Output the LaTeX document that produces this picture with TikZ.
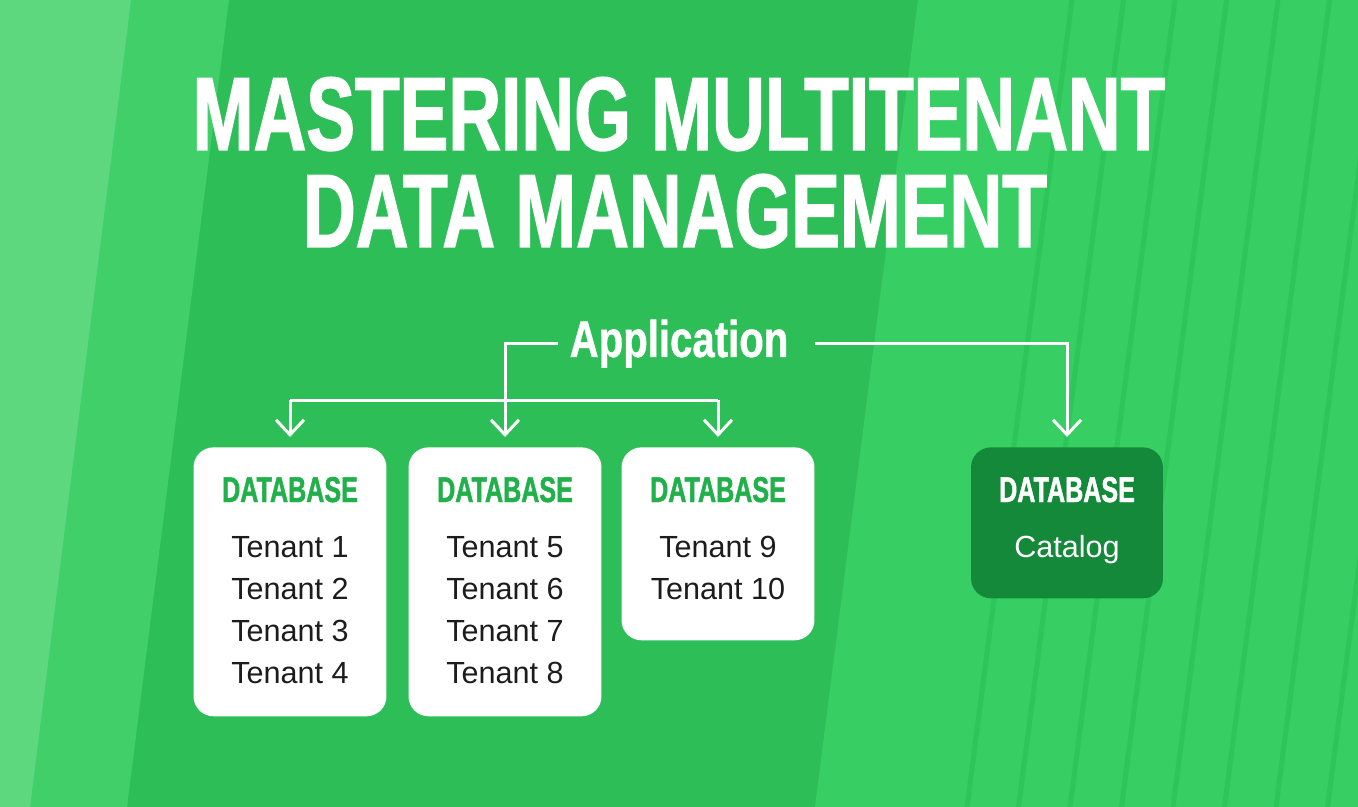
\documentclass[tikz,border=0pt]{standalone}
\usepackage{fontspec}
\setmainfont{Liberation Sans}
\newfontfamily\titlefont[FakeStretch=0.70, FakeBold=1.3]{Liberation Sans}
\newfontfamily\appfont[FakeStretch=0.78, FakeBold=0.8]{Liberation Sans}
\usetikzlibrary{calc, arrows.meta}

\definecolor{fondo}{HTML}{2EBE58}
\definecolor{fondomedio}{HTML}{41CF6A}
\definecolor{fondoclaro}{HTML}{5DD87F}
\definecolor{fondoderecho}{HTML}{37CF63}
\definecolor{raya}{HTML}{2DC658}
\definecolor{verdetexto}{HTML}{22B04B}
\definecolor{verdeoscuro}{HTML}{15893A}
\definecolor{gristexto}{HTML}{1C1C1C}

\begin{document}
\begin{tikzpicture}[x=0.02cm, y=-0.02cm,
    titulo/.style={text=white, font=\titlefont\bfseries\fontsize{59.4}{60}\selectfont, inner sep=0, anchor=base},
    app/.style={text=white, font=\appfont\bfseries\fontsize{29.3}{30}\selectfont, inner xsep=0.22cm, inner ysep=0, anchor=base},
    caja/.style={rectangle, rounded corners=0.4cm, minimum width=3.86cm, inner sep=0, anchor=north},
    cabecera/.style={font=\titlefont\bfseries\fontsize{20.4}{21}\selectfont, text=verdetexto, anchor=base, inner sep=0},
    inquilino/.style={font=\fontsize{17.4}{18}\selectfont, text=gristexto, anchor=base, inner sep=0},
    linea/.style={white, line width=0.06cm},
    enlace/.style={linea, -{Straight Barb[length=0.3cm, width=0.56cm]}, shorten >=0.2cm}
]
    % Limites del dibujo y fondo
    \useasboundingbox (0,0) rectangle (1358,807);
    \clip (0,0) rectangle (1358,807);
    \fill[fondo] (0,0) rectangle (1358,807);
    \fill[fondomedio] (0,0) -- (229,0) -- (127,807) -- (0,807) -- cycle;
    \fill[fondoclaro] (0,0) -- (131,0) -- (30,807) -- (0,807) -- cycle;
    \fill[fondoderecho] (918,0) -- (1358,0) -- (1358,807) -- (815,807) -- cycle;

    % Rayas inclinadas a la derecha
    \foreach \k in {0,...,7}
        \draw[raya, line width=0.1cm] ({1072+51.5*\k},0) -- ({967+51.5*\k},807);

    % Titulo
    \node[titulo] (L1) at (679,150) {MASTERING MULTITENANT};
    \node[titulo] (L2) at (675,247) {DATA MANAGEMENT};

    % Aplicacion
    \node[app] (APP) at (679,357) {Application};

    % Cajas de bases de datos
    \node[caja, fill=white, minimum height=5.38cm] (DB1) at (290,447) {};
    \node[caja, fill=white, minimum height=5.38cm] (DB2) at (505,447) {};
    \node[caja, fill=white, minimum height=3.86cm] (DB3) at (718,447) {};
    \node[caja, fill=verdeoscuro, minimum width=3.84cm, minimum height=3.02cm] (CAT) at (1067,447) {};

    % Cabeceras
    \node[cabecera] (H1) at ($(DB1.north)+(0,55)$) {DATABASE};
    \node[cabecera] (H2) at ($(DB2.north)+(0,55)$) {DATABASE};
    \node[cabecera] (H3) at ($(DB3.north)+(0,55)$) {DATABASE};
    \node[cabecera, text=white] (H4) at ($(CAT.north)+(0,55)$) {DATABASE};

    % Inquilinos
    \foreach \t [count=\i] in {1,...,4}
        \node[inquilino] (T\t) at ($(DB1.north)+(0,68+42*\i)$) {Tenant \t};
    \foreach \t [count=\i] in {5,...,8}
        \node[inquilino] (T\t) at ($(DB2.north)+(0,68+42*\i)$) {Tenant \t};
    \foreach \t [count=\i] in {9,10}
        \node[inquilino] (T\t) at ($(DB3.north)+(0,68+42*\i)$) {Tenant \t};
    \node[inquilino, text=white] (CL) at ($(CAT.north)+(0,110)$) {Catalog};

    % Conexiones
    \coordinate (B1) at ($(DB1.north)+(0,-47)$);
    \coordinate (B3) at ($(DB3.north)+(0,-47)$);
    \draw[linea] (B1) -- (B3);
    \draw[enlace] (APP.west) -| (DB2.north);
    \draw[enlace] (B1) -- (DB1.north);
    \draw[enlace] (B3) -- (DB3.north);
    \draw[enlace, shorten <=0.3cm] (APP.east) -| (CAT.north);

\end{tikzpicture}
\end{document}
